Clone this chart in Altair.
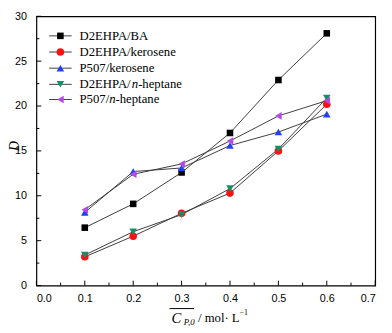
import altair as alt
import pandas as pd

# ---- data ----
x_vals = [0.1, 0.2, 0.3, 0.4, 0.5, 0.6]
series_names = ["D2EHPA/BA", "D2EHPA/kerosene", "P507/kerosene",
                "D2EHPA/n-heptane", "P507/n-heptane"]
d2ehpa_ba = [6.45, 9.1, 12.6, 17.0, 22.9, 28.1]
d2ehpa_kerosene = [3.2, 5.5, 8.05, 10.3, 15.0, 20.2]
p507_kerosene = [8.15, 12.7, 13.1, 15.6, 17.1, 19.1]
d2ehpa_heptane = [3.4, 6.0, 7.9, 10.8, 15.2, 20.9]
p507_heptane = [8.45, 12.4, 13.55, 16.1, 18.9, 20.6]
all_values = [d2ehpa_ba, d2ehpa_kerosene, p507_kerosene, d2ehpa_heptane, p507_heptane]

x_ticks = [0.0, 0.1, 0.2, 0.3, 0.4, 0.5, 0.6, 0.7]
x_minor = [0.05, 0.15, 0.25, 0.35, 0.45, 0.55, 0.65]
y_ticks = [0, 5, 10, 15, 20, 25, 30]
y_minor = [2.5, 7.5, 12.5, 17.5, 22.5, 27.5]

colors = ["#000000", "#ff1010", "#2040ff", "#12906a", "#b548e8"]
shapes = ["square", "circle", "triangle-up", "triangle-down", "triangle-left"]
sizes = [45, 60, 60, 60, 60]

W, H = 346, 275
SANS = "Liberation Sans"
SERIF = "Liberation Serif"

rows = []
for name, vals in zip(series_names, all_values):
    for xv, yv in zip(x_vals, vals):
        rows.append({"series": name, "x": xv, "y": yv})
df = pd.DataFrame(rows)

xs = alt.Scale(domain=[0, 0.7], nice=False, zero=False)
ys = alt.Scale(domain=[0, 30], nice=False)

layers = []

lines = alt.Chart(df).mark_line(color="#3c3c3c", strokeWidth=1).encode(
    x=alt.X("x:Q", scale=xs, axis=alt.Axis(values=x_ticks, format=".1f", title=None,
                                            ticks=False, domain=False, grid=False,
                                            labelFont=SANS, labelFontSize=11,
                                            labelColor="#000", labelPadding=7)),
    y=alt.Y("y:Q", scale=ys, axis=alt.Axis(values=y_ticks, title=None, ticks=False,
                                            domain=False, grid=False,
                                            labelFont=SANS, labelFontSize=11,
                                            labelColor="#000", labelPadding=10)),
    detail="series:N",
    order="x:Q",
)
layers.append(lines)

for name, col, shp, sz in zip(series_names, colors, shapes, sizes):
    pts = alt.Chart(df[df.series == name]).mark_point(
        filled=True, opacity=1, color=col, shape=shp, size=sz, strokeWidth=0
    ).encode(x="x:Q", y="y:Q")
    layers.append(pts)

# inward ticks
def xtick_layer(vals, length):
    return alt.Chart(pd.DataFrame({"x": vals})).mark_rule(color="#000", strokeWidth=1).encode(
        x="x:Q", y=alt.value(H), y2=alt.value(H - length))

def ytick_layer(vals, length):
    return alt.Chart(pd.DataFrame({"y": vals})).mark_rule(color="#000", strokeWidth=1).encode(
        y="y:Q", x=alt.value(0), x2=alt.value(length))

layers += [xtick_layer(x_ticks, 5), xtick_layer(x_minor, 3),
           ytick_layer(y_ticks, 5), ytick_layer(y_minor, 3)]

# legend
def text_layer(t, px, py, font=SERIF, size=13, style="normal", align="left",
               baseline="middle", angle=0):
    return alt.Chart(pd.DataFrame({"t": [t]})).mark_text(
        font=font, fontSize=size, fontStyle=style, align=align, baseline=baseline,
        color="#000", angle=angle
    ).encode(text="t:N", x=alt.value(px), y=alt.value(py))

row_y = [20, 36.5, 53, 69.5, 85]
for i, (name, col, shp, sz) in enumerate(zip(series_names, colors, shapes, sizes)):
    yy = row_y[i]
    layers.append(alt.Chart(pd.DataFrame({"a": [0]})).mark_rule(color="#3c3c3c", strokeWidth=1).encode(
        x=alt.value(13), x2=alt.value(36), y=alt.value(yy)))
    layers.append(alt.Chart(pd.DataFrame({"a": [0]})).mark_point(
        filled=True, opacity=1, color=col, shape=shp, size=sz, strokeWidth=0).encode(
        x=alt.value(24.5), y=alt.value(yy)))
    tx = 44
    if "/n-" in name:
        pre, post = name.split("/n")
        pre = pre + "/"
        pre_w = 53.4 if pre.startswith("D2EHPA") else 30.3
        layers.append(text_layer(pre, tx, yy))
        layers.append(text_layer("n", tx + pre_w, yy, style="italic"))
        layers.append(text_layer(post, tx + pre_w + 6.5, yy))
    else:
        layers.append(text_layer(name, tx, yy))

# axis titles
layers.append(text_layer("D", -22, H / 2, size=14, style="italic", angle=270))
layers.append(text_layer("C", 138, 313, size=15, style="italic", baseline="alphabetic"))
layers.append(text_layer("P,0", 150.5, 315, size=9, style="italic", baseline="alphabetic"))
layers.append(alt.Chart(pd.DataFrame({"a": [0]})).mark_rule(color="#000", strokeWidth=1).encode(
    x=alt.value(136), x2=alt.value(161), y=alt.value(298.5)))
layers.append(text_layer("/ mol\u00b7 L", 165, 312, size=13, baseline="alphabetic"))
layers.append(text_layer("\u22121", 207.5, 305, size=8, baseline="alphabetic"))

chart = alt.layer(*layers).properties(
    width=W, height=H,
    padding={"left": 29, "top": 5, "right": 9, "bottom": 45},
    autosize=alt.AutoSizeParams(type="none"),
).configure_view(stroke="#000", strokeWidth=1.2)

chart.save("out.html", embed_options={"renderer": "svg", "actions": False})
